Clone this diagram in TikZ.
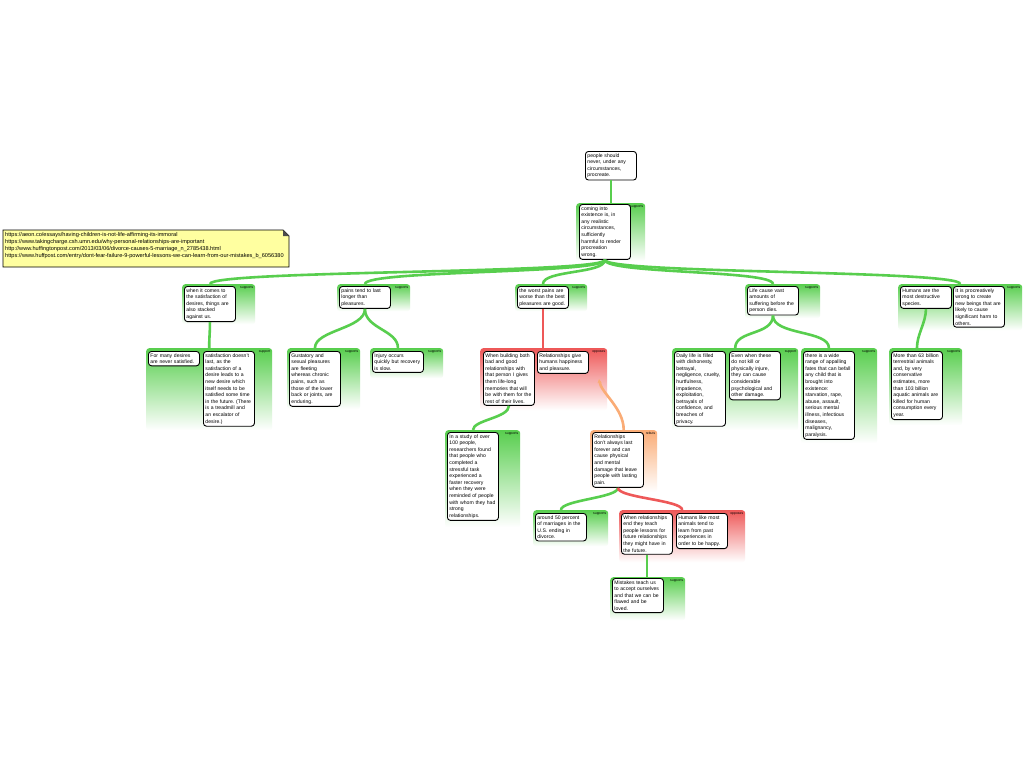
\documentclass[tikz,border=0pt]{standalone}
\usepackage{fontspec}
\setmainfont{Liberation Sans}
\usetikzlibrary{arrows.meta,positioning}
\definecolor{supG}{RGB}{88,206,78}
\definecolor{oppR}{RGB}{238,88,88}
\definecolor{rebO}{RGB}{250,172,118}
\definecolor{noteY}{RGB}{255,255,160}

\begin{document}
\begin{tikzpicture}[x=1pt,y=-1pt,
    every node/.style={font=\fontsize{5.1}{6.6}\selectfont}]
  \tikzstyle{claim}=[draw=black,line width=0.9pt,rounded corners=3pt,fill=white,text width=47pt,align=left,inner xsep=2pt,inner ysep=2pt,anchor=north west]
  \tikzstyle{grp}=[rectangle,rounded corners=3pt,inner sep=0pt,anchor=north west,bottom color=white]
  \tikzstyle{grpG}=[grp,top color=supG]
  \tikzstyle{grpR}=[grp,top color=oppR]
  \tikzstyle{grpO}=[grp,top color=rebO]
  \tikzstyle{lbl}=[anchor=north east,inner sep=2pt,font=\fontsize{3.4}{4}\selectfont]
  \tikzstyle{lnkG}=[draw=supG,line width=2.6pt]
  \tikzstyle{lnkR}=[draw=oppR,line width=2.6pt]
  \tikzstyle{lnkO}=[draw=rebO,line width=2.6pt]

  \useasboundingbox[fill=white] (0,0) rectangle (1024,768);

  % reference note
  \draw[fill=noteY,line width=0.8pt] (3,230) -- (283,230) -- (289,236) -- (289,267) -- (3,267) -- cycle;
  \fill[black!70] (283,230) -- (289,236) -- (283,236) -- cycle;
  \node[anchor=north west,inner sep=0pt,align=left,font=\fontsize{5.6}{7}\selectfont] (n_note) at (5,232)
    {https://aeon.co/essays/having-children-is-not-life-affirming-its-immoral\\
     https://www.takingcharge.csh.umn.edu/why-personal-relationships-are-important\\
     http://www.huffingtonpost.com/2013/03/06/divorce-causes-5-marriage\_n\_2785438.html\\
     https://www.huffpost.com/entry/dont-fear-failure-9-powerful-lessons-we-can-learn-from-our-mistakes\_b\_6056380};

  % groups
  \node[grpG,minimum width=69pt,minimum height=58pt] (g_1) at (576,203) {};
  \node[grpG,minimum width=73pt,minimum height=40pt] (g_2a) at (182,284) {};
  \node[grpG,minimum width=73pt,minimum height=27pt] (g_2b) at (337,284) {};
  \node[grpG,minimum width=72pt,minimum height=27pt] (g_2c) at (515,284) {};
  \node[grpG,minimum width=75pt,minimum height=34pt] (g_2d) at (745,284) {};
  \node[grpG,minimum width=124pt,minimum height=46pt] (g_2e) at (898,284) {};
  \node[grpG,minimum width=126pt,minimum height=82pt] (g_3a) at (146,348) {};
  \node[grpG,minimum width=73pt,minimum height=61pt] (g_3b1) at (287,348) {};
  \node[grpG,minimum width=73pt,minimum height=30pt] (g_3b2) at (370,348) {};
  \node[grpR,minimum width=127pt,minimum height=62pt] (g_3c) at (480,348) {};
  \node[grpG,minimum width=126pt,minimum height=82pt] (g_3d1) at (672,348) {};
  \node[grpG,minimum width=76pt,minimum height=95pt] (g_3d2) at (801,348) {};
  \node[grpG,minimum width=73pt,minimum height=77pt] (g_3e) at (889,348) {};
  \node[grpG,minimum width=75pt,minimum height=97pt] (g_4a) at (445,430) {};
  \node[grpO,minimum width=67pt,minimum height=62pt] (g_4b) at (590,430) {};
  \node[grpG,minimum width=75pt,minimum height=36pt] (g_5a) at (533,510) {};
  \node[grpR,minimum width=126pt,minimum height=52pt] (g_5b) at (619,510) {};
  \node[grpG,minimum width=75pt,minimum height=43pt] (g_6) at (610,577) {};

  \node[lbl] (l_1) at (g_1.north east) {supports};
  \node[lbl] (l_2a) at (g_2a.north east) {supports};
  \node[lbl] (l_2b) at (g_2b.north east) {supports};
  \node[lbl] (l_2c) at (g_2c.north east) {supports};
  \node[lbl] (l_2d) at (g_2d.north east) {supports};
  \node[lbl] (l_2e) at (g_2e.north east) {supports};
  \node[lbl] (l_3a) at (g_3a.north east) {support};
  \node[lbl] (l_3b1) at (g_3b1.north east) {supports};
  \node[lbl] (l_3b2) at (g_3b2.north east) {supports};
  \node[lbl] (l_3c) at (g_3c.north east) {opposes};
  \node[lbl] (l_3d1) at (g_3d1.north east) {support};
  \node[lbl] (l_3d2) at (g_3d2.north east) {supports};
  \node[lbl] (l_3e) at (g_3e.north east) {supports};
  \node[lbl] (l_4a) at (g_4a.north east) {supports};
  \node[lbl] (l_4b) at (g_4b.north east) {rebuts};
  \node[lbl] (l_5a) at (g_5a.north east) {supports};
  \node[lbl] (l_5b) at (g_5b.north east) {opposes};
  \node[lbl] (l_6) at (g_6.north east) {supports};

  % claims
  \node[claim] (n_root) at (585,151) {people should\\never, under any\\circumstances,\\procreate.};
  \node[claim] (n_1) at (579,204) {coming into\\existence is, in\\any realistic\\circumstances,\\sufficiently\\harmful to render\\procreation\\wrong.};
  \node[claim] (n_2a) at (184,286) {when it comes to\\the satisfaction of\\desires, things are\\also stacked\\against us.};
  \node[claim] (n_2b) at (339,286) {pains tend to last\\longer than\\pleasures.};
  \node[claim] (n_2c) at (517,286) {the worst pains are\\worse than the best\\pleasures are good.};
  \node[claim] (n_2d) at (747,286) {Life cause vast\\amounts of\\suffering before the\\person dies.};
  \node[claim] (n_2e1) at (900,286) {Humans are the\\most destructive\\species.};
  \node[claim] (n_2e2) at (953,286) {It is procreatively\\wrong to create\\new beings that are\\likely to cause\\significant harm to\\others.};
  \node[claim] (n_3a1) at (148,351) {For many desires\\are never satisfied.};
  \node[claim] (n_3a2) at (203,351) {satisfaction doesn't\\last, as the\\satisfaction of a\\desire leads to a\\new desire which\\itself needs to be\\satisfied some time\\in the future.~(There\\is a treadmill and\\an escalator of\\desire.)};
  \node[claim] (n_3b1) at (289,351) {Gustatory and\\sexual pleasures\\are fleeting\\whereas chronic\\pains, such as\\those of the lower\\back or joints, are\\enduring.};
  \node[claim] (n_3b2) at (372,351) {Injury occurs\\quickly but recovery\\is slow.};
  \node[claim] (n_3c1) at (483,351) {When building both\\bad and good\\relationships with\\that person I gives\\them life-long\\memories that will\\be with them for the\\rest of their lives.};
  \node[claim] (n_3c2) at (537,351) {Relationships give\\humans happiness\\and pleasure.};
  \node[claim] (n_3d1) at (674,351) {Daily life is filled\\with dishonesty,\\betrayal,\\negligence, cruelty,\\hurtfulness,\\impatience,\\exploitation,\\betrayals of\\confidence, and\\breaches of\\privacy.};
  \node[claim] (n_3d2) at (729,351) {Even when these\\do not kill or\\physically injure,\\they can cause\\considerable\\psychological and\\other damage.};
  \node[claim] (n_3d3) at (803,351) {there is a wide\\range of appalling\\fates that can befall\\any child that is\\brought into\\existence:\\starvation, rape,\\abuse, assault,\\serious mental\\illness, infectious\\diseases,\\malignancy,\\paralysis.};
  \node[claim] (n_3e) at (891,351) {More than 63 billion\\terrestrial animals\\and, by very\\conservative\\estimates, more\\than 103 billion\\aquatic animals are\\killed for human\\consumption every\\year.};
  \node[claim] (n_4a) at (447,432) {In a study of over\\100 people,\\researchers found\\that people who\\completed a\\stressful task\\experienced a\\faster recovery\\when they were\\reminded of people\\with whom they had\\strong\\relationships.};
  \node[claim] (n_4b) at (592,432) {Relationships\\don't always last\\forever and can\\cause physical\\and mental\\damage that leave\\people with lasting\\pain.};
  \node[claim] (n_5a) at (535,513) {around 50 percent\\of marriages in the\\U.S. ending in\\divorce.};
  \node[claim] (n_5b1) at (621,513) {When relationships\\end they teach\\people lessons for\\future relationships\\they might have in\\the future.};
  \node[claim] (n_5b2) at (676,513) {Humans like most\\animals tend to\\learn from past\\experiences in\\order to be happy.};
  \node[claim] (n_6) at (612,578) {Mistakes teach us\\to accept ourselves\\and that we can be\\flawed and be\\loved.};

  \coordinate (e_reb) at (599,379);

  % links
  \draw[lnkG] (n_root.south) -- (g_1.north -| n_root.south);
  \draw[lnkG] (n_1.south) .. controls +(0,14) and +(0,-14) .. (g_2a.north -| n_2a.north);
  \draw[lnkG] (n_1.south) .. controls +(0,14) and +(0,-14) .. (g_2b.north -| n_2b.north);
  \draw[lnkG] (n_1.south) .. controls +(0,14) and +(0,-14) .. (g_2c.north -| n_2c.north);
  \draw[lnkG] (n_1.south) .. controls +(0,14) and +(0,-14) .. (g_2d.north -| n_2d.north);
  \draw[lnkG] (n_1.south) .. controls +(0,14) and +(0,-14) .. (g_2e.north);
  \draw[lnkG] (n_2a.south) .. controls +(0,12) and +(0,-12) .. (g_3a.north);
  \draw[lnkG] (n_2b.south) .. controls +(0,20) and +(0,-18) .. (g_3b1.north -| n_3b1.north);
  \draw[lnkG] (n_2b.south) .. controls +(0,20) and +(0,-18) .. (g_3b2.north -| n_3b2.north);
  \draw[lnkR] (n_2c.south) -- (g_3c.north -| n_2c.south);
  \draw[lnkG] (n_2d.south) .. controls +(0,20) and +(0,-18) .. (g_3d1.north);
  \draw[lnkG] (n_2d.south) .. controls +(0,20) and +(0,-18) .. (g_3d2.north -| n_3d3.north);
  \draw[lnkG] (n_2e1.south) .. controls +(0,14) and +(0,-14) .. (g_3e.north -| n_3e.north);
  \draw[lnkG] (n_3c1.south) .. controls +(0,12) and +(0,-10) .. (g_4a.north -| n_4a.north);
  \draw[lnkO,-{Stealth[length=4pt,width=4pt]}] (g_4b.north) .. controls +(0,-22) and +(2,14) .. (e_reb);
  \draw[lnkG] (n_4b.south) .. controls +(0,10) and +(0,-10) .. (g_5a.north -| n_5a.north);
  \draw[lnkR] (n_4b.south) .. controls +(0,10) and +(0,-10) .. (g_5b.north);
  \draw[lnkG] (n_5b1.south) -- (g_6.north -| n_5b1.south);
\end{tikzpicture}
\end{document}
